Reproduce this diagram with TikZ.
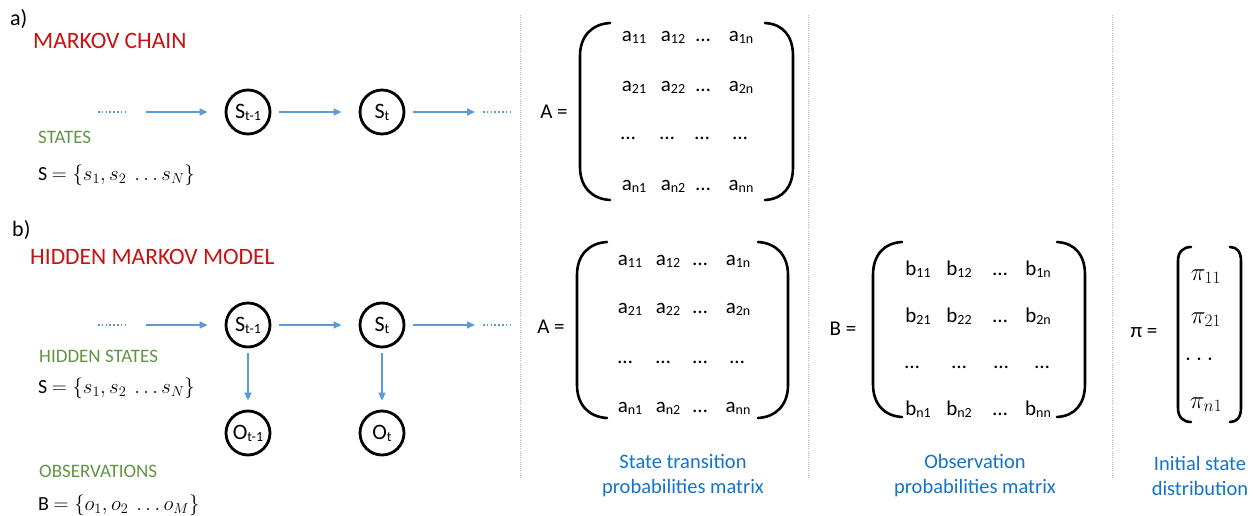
\documentclass[tikz,border=0pt]{standalone}
\usepackage{fontspec}
\setmainfont{Carlito}
\usetikzlibrary{arrows.meta}
\definecolor{hmmred}{RGB}{204,16,16}
\definecolor{hmmgreen}{RGB}{98,148,68}
\definecolor{hmmblue}{RGB}{91,155,213}
\definecolor{capblue}{RGB}{20,115,200}
\definecolor{sepgray}{RGB}{185,185,185}
\newcommand{\fs}[1]{\fontsize{#1}{#1}\selectfont}
\newcommand{\fsb}[2]{\fontsize{#1}{#2}\selectfont}
\newcommand{\lowsub}[1]{\raisebox{-2pt}{\fs{14}#1}}
\begin{document}
\begin{tikzpicture}[x=1pt,y=-1pt,
  state/.style={circle,draw,line width=2.8pt,minimum size=44pt,inner sep=0pt,font=\fs{22}},
  flow/.style={draw=hmmblue,line width=1.4pt,-{Triangle[length=8pt,width=7pt,fill=hmmblue]}},
  dotline/.style={draw=hmmblue,line width=1.6pt,dash pattern=on 1.6pt off 2.2pt},
  sepline/.style={draw=sepgray,line width=0.9pt,dash pattern=on 1pt off 1.2pt},
  paren/.style={line width=2.6pt,line cap=round},
  lbl/.style={anchor=base west,inner sep=0pt,font=\fs{22}},
  titletext/.style={anchor=base west,inner sep=0pt,text=hmmred,font=\fs{23.5}},
  subtext/.style={anchor=base west,inner sep=0pt,text=hmmgreen,font=\fs{19}},
  setline/.style={anchor=base west,inner sep=0pt,font=\fs{20}},
  ent/.style={anchor=base,font=\fs{21},inner sep=0pt},
  pient/.style={anchor=base,font=\fs{25},inner sep=0pt},
  eqn/.style={anchor=base,font=\fs{21},inner sep=0pt},
  captext/.style={align=center,text=capblue,font=\fsb{20.5}{25}}]
\useasboundingbox (0,0) rectangle (1253,516);

% separators
\draw[sepline] (520,15) -- (520,478);
\draw[sepline] (808,15) -- (808,478);
\draw[sepline] (1112,15) -- (1112,478);

% ---------- a) Markov chain ----------
\node[lbl] (la) at (10,26) {a)};
\node[titletext] (ta) at (33,49) {MARKOV CHAIN};
\node[subtext] (sa) at (38,143) {STATES};
\node[setline] (seta) at (38,180) {S $=\{s_1, s_2\ \ldots s_N\}$};

\node[state] (a1) at (248,112) {S\lowsub{t-1}};
\node[state] (a2) at (382,112) {S\lowsub{t}};
\coordinate (ad1) at (98,112);
\coordinate (ad2) at (128,112);
\coordinate (ad3) at (483,112);
\coordinate (ad4) at (513,112);
\draw[dotline] (ad1) -- (ad2);
\draw[dotline] (ad3) -- (ad4);
\draw[flow,shorten <=18pt,shorten >=17pt] (ad2) -- (a1);
\draw[flow,shorten <=8pt,shorten >=17pt] (a1) -- (a2);
\draw[flow,shorten <=8pt,shorten >=8pt] (a2) -- (ad3);

% top A matrix
\node[eqn] (Aeq1) at (554,119) {A =};
\draw[paren] (610,23) .. controls (592,24) and (580,36) .. (580,56) -- (580,167) .. controls (580,187) and (592,199) .. (610,200);
\draw[paren] (765,23) .. controls (783,24) and (793,36) .. (793,56) -- (793,167) .. controls (793,187) and (783,199) .. (765,200);
\node[ent] (ta11) at (634,42) {a\lowsub{11}};
\node[ent] (ta12) at (673,42) {a\lowsub{12}};
\node[ent] (ta13) at (703,42) {…};
\node[ent] (ta14) at (741,42) {a\lowsub{1n}};
\node[ent] (ta21) at (634,92) {a\lowsub{21}};
\node[ent] (ta22) at (673,92) {a\lowsub{22}};
\node[ent] (ta23) at (703,92) {…};
\node[ent] (ta24) at (741,92) {a\lowsub{2n}};
\node[ent] (ta31) at (628,140) {…};
\node[ent] (ta32) at (667,140) {…};
\node[ent] (ta33) at (702,140) {…};
\node[ent] (ta34) at (740,140) {…};
\node[ent] (ta41) at (634,190) {a\lowsub{n1}};
\node[ent] (ta42) at (673,190) {a\lowsub{n2}};
\node[ent] (ta43) at (703,190) {…};
\node[ent] (ta44) at (741,190) {a\lowsub{nn}};

% ---------- b) Hidden Markov model ----------
\node[lbl] (lb) at (12,236) {b)};
\node[titletext] (tb) at (30,264) {HIDDEN MARKOV MODEL};
\node[subtext] (sb) at (39,362) {HIDDEN STATES};
\node[setline] (setb) at (38,393) {S $=\{s_1, s_2\ \ldots s_N\}$};
\node[subtext] (ob) at (39,477) {OBSERVATIONS};
\node[setline] (setc) at (38,510) {B $=\{o_1, o_2\ \ldots o_M\}$};

\node[state] (b1) at (248,325) {S\lowsub{t-1}};
\node[state] (b2) at (382,325) {S\lowsub{t}};
\node[state] (o1) at (248,433) {O\lowsub{t-1}};
\node[state] (o2) at (382,433) {O\lowsub{t}};
\coordinate (bd1) at (98,325);
\coordinate (bd2) at (128,325);
\coordinate (bd3) at (483,325);
\coordinate (bd4) at (513,325);
\draw[dotline] (bd1) -- (bd2);
\draw[dotline] (bd3) -- (bd4);
\draw[flow,shorten <=18pt,shorten >=17pt] (bd2) -- (b1);
\draw[flow,shorten <=8pt,shorten >=17pt] (b1) -- (b2);
\draw[flow,shorten <=8pt,shorten >=8pt] (b2) -- (bd3);
\draw[flow,shorten <=5pt,shorten >=9pt] (b1) -- (o1);
\draw[flow,shorten <=5pt,shorten >=9pt] (b2) -- (o2);

% bottom A matrix
\node[eqn] (Aeq2) at (551,333) {A =};
\draw[paren] (607,242) .. controls (589,243) and (577,255) .. (577,275) -- (577,385) .. controls (577,405) and (589,417) .. (607,418);
\draw[paren] (758,242) .. controls (776,243) and (788,255) .. (788,275) -- (788,385) .. controls (788,405) and (776,417) .. (758,418);
\node[ent] (ba11) at (630,265) {a\lowsub{11}};
\node[ent] (ba12) at (668,265) {a\lowsub{12}};
\node[ent] (ba13) at (700,265) {…};
\node[ent] (ba14) at (738,265) {a\lowsub{1n}};
\node[ent] (ba21) at (630,313) {a\lowsub{21}};
\node[ent] (ba22) at (668,313) {a\lowsub{22}};
\node[ent] (ba23) at (700,313) {…};
\node[ent] (ba24) at (738,313) {a\lowsub{2n}};
\node[ent] (ba31) at (625,363) {…};
\node[ent] (ba32) at (663,363) {…};
\node[ent] (ba33) at (700,363) {…};
\node[ent] (ba34) at (737,363) {…};
\node[ent] (ba41) at (630,412) {a\lowsub{n1}};
\node[ent] (ba42) at (668,412) {a\lowsub{n2}};
\node[ent] (ba43) at (700,412) {…};
\node[ent] (ba44) at (738,412) {a\lowsub{nn}};
\node[captext] (capA) at (683,476) {State transition\\probabilities matrix};

% B matrix
\node[eqn] (Beq) at (843,335) {B =};
\draw[paren] (902,242) .. controls (884,243) and (873,255) .. (873,275) -- (873,384) .. controls (873,404) and (884,416) .. (902,417);
\draw[paren] (1057,242) .. controls (1075,243) and (1085,255) .. (1085,275) -- (1085,384) .. controls (1085,404) and (1075,416) .. (1057,417);
\node[ent] (b11) at (918,275) {b\lowsub{11}};
\node[ent] (b12) at (959,275) {b\lowsub{12}};
\node[ent] (b13) at (1000,275) {…};
\node[ent] (b14) at (1038,275) {b\lowsub{1n}};
\node[ent] (b21) at (918,322) {b\lowsub{21}};
\node[ent] (b22) at (959,322) {b\lowsub{22}};
\node[ent] (b23) at (1000,322) {…};
\node[ent] (b24) at (1038,322) {b\lowsub{2n}};
\node[ent] (b31) at (912,368) {…};
\node[ent] (b32) at (959,368) {…};
\node[ent] (b33) at (1001,368) {…};
\node[ent] (b34) at (1042,368) {…};
\node[ent] (b41) at (918,415) {b\lowsub{n1}};
\node[ent] (b42) at (959,415) {b\lowsub{n2}};
\node[ent] (b43) at (1000,415) {…};
\node[ent] (b44) at (1038,415) {b\lowsub{nn}};
\node[captext] (capB) at (975,476) {Observation\\probabilities matrix};

% pi vector
\node[eqn] (Peq) at (1144,337) {π =};
\draw[paren] (1191,247) .. controls (1183,247) and (1178,252) .. (1178,261) -- (1178,408) .. controls (1178,417) and (1183,422) .. (1191,422);
\draw[paren] (1230,247) .. controls (1237,247) and (1241,252) .. (1241,261) -- (1241,408) .. controls (1241,417) and (1237,422) .. (1230,422);
\node[pient] (p1) at (1206,280) {$\pi_{11}$};
\node[pient] (p2) at (1206,323) {$\pi_{21}$};
\node[pient] (p3) at (1199,365) {$\cdots$};
\node[pient] (p4) at (1206,408) {$\pi_{n1}$};
\node[captext] (capP) at (1200,476) {Initial state\\distribution};
\end{tikzpicture}
\end{document}
